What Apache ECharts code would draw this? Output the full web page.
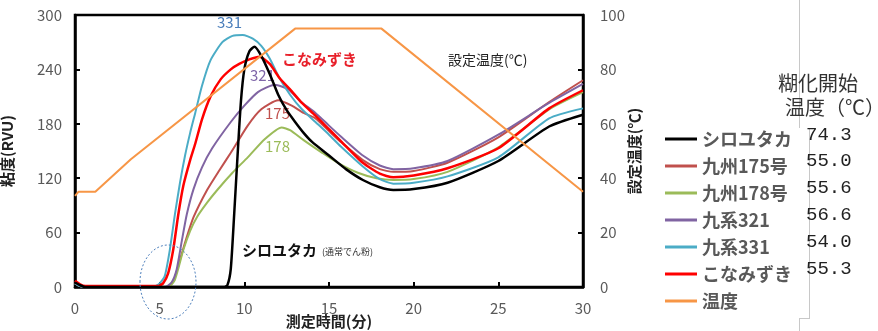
<!DOCTYPE html>
<html><head><meta charset="utf-8">
<script src="https://cdn.jsdelivr.net/npm/echarts@6/dist/echarts.min.js"></script>
<style>html,body{margin:0;padding:0;background:#fff}#c{width:878px;height:331px}</style>
</head><body><div id="c"></div>
<script>
const FONT = '"Noto Sans CJK JP", "Noto Sans", sans-serif';

// ---- data ----
const legendNames = ['シロユタカ', '九州175号', '九州178号', '九系321', '九系331', 'こなみずき', '温度'];
const gelTemps = ['74.3', '55.0', '55.6', '56.6', '54.0', '55.3'];
const xTicks = [0, 5, 10, 15, 20, 25, 30];

const tShiro = [0, 0.3, 0.6, 8.8, 9.0, 9.2, 9.4, 9.6, 9.8, 10.0, 10.3, 10.6, 11.0, 11.5, 12.0, 12.5, 13.0, 13.5, 14.0, 15.0, 16.0, 17.0, 18.0, 18.8, 20, 22, 25, 28, 30];
const vShiro = [5, 2, 0, 0, 2, 20, 80, 145, 205, 240, 260, 265, 255, 235, 212, 195, 182, 170, 160, 145, 130, 118, 110, 107, 108, 115, 139, 177, 190];

const t175 = [0, 0.3, 0.6, 5.4, 5.8, 6.2, 6.6, 7.0, 7.8, 8.5, 9.2, 10.2, 11.0, 12.0, 12.8, 13.5, 14.2, 15.0, 15.7, 17.0, 18.0, 18.8, 20, 22, 25, 28, 30];
const v175 = [4, 1, 0, 0, 6, 30, 55, 77, 107, 128, 148, 178, 196, 206, 200, 192, 186, 172, 160, 140, 130, 127, 128, 137, 165, 204, 228];

const t178 = [0, 0.3, 0.6, 5.5, 5.9, 6.4, 6.8, 7.2, 7.8, 8.4, 9.3, 10.2, 11.2, 12.2, 12.7, 13.5, 14.6, 15.6, 16.7, 17.8, 18.8, 20, 22, 25, 28, 30];
const v178 = [4, 1, 0, 0, 8, 41, 62, 77, 93, 107, 126, 143, 163, 176, 173, 162, 148, 136, 126, 120, 118, 119, 127, 154, 196, 215];

const t321 = [0, 0.3, 0.6, 5.3, 5.7, 6.0, 6.3, 6.6, 7.0, 7.5, 8.1, 9.2, 10.0, 10.8, 11.8, 12.6, 13.3, 14.2, 15.0, 15.7, 17.0, 18.0, 18.8, 20, 22, 25, 28, 30];
const v321 = [4, 1, 0, 0, 5, 19, 50, 80, 108, 132, 153, 182, 200, 215, 223, 218, 205, 192, 178, 166, 145, 134, 130, 131, 139, 168, 203, 224];

const t331 = [0, 0.3, 0.6, 4.6, 5.0, 5.3, 5.6, 5.9, 6.2, 6.5, 6.8, 7.1, 7.5, 8.0, 8.7, 9.3, 9.9, 10.5, 11.0, 11.5, 12.0, 12.7, 13.4, 14.2, 15.0, 15.7, 17.0, 18.0, 18.8, 20, 22, 25, 28, 30];
const v331 = [4, 1, 0, 0, 4, 12, 41, 80, 115, 145, 170, 192, 222, 250, 270, 277, 278, 274, 266, 252, 233, 212, 196, 182, 168, 155, 133, 119, 114, 115, 122, 143, 186, 197];

const tKona = [0, 0.3, 0.6, 4.9, 5.2, 5.5, 5.8, 6.1, 6.4, 6.8, 7.1, 7.5, 8.0, 8.6, 9.2, 9.7, 10.3, 10.9, 11.5, 12.1, 12.7, 13.4, 14.2, 15.0, 15.7, 17.0, 18.0, 18.8, 20, 22, 25, 28, 30];
const vKona = [7, 3, 1, 1, 4, 15, 41, 80, 112, 140, 158, 185, 210, 229, 240, 246, 251, 254, 246, 230, 218, 203, 189, 174, 161, 137, 125, 121, 123, 131, 153, 197, 217];

const tTemp = [0, 0.2, 1.2, 3.3, 13.0, 18.1, 30];
const vTemp = [33.5, 35, 35, 47, 95, 95, 35];

// ---- build ----
const pairs = (t, v) => t.map((x, i) => [x, v[i]]);
const colors = ['#000000', '#c0504d', '#9bbb59', '#8064a2', '#4bacc6', '#ff0000', '#f79646'];
const seriesData = [pairs(tShiro, vShiro), pairs(t175, v175), pairs(t178, v178), pairs(t321, v321), pairs(t331, v331), pairs(tKona, vKona)];

const series = seriesData.map((d, i) => ({
  name: legendNames[i], type: 'line', data: d, showSymbol: false, symbol: 'none',
  smooth: 0.2, yAxisIndex: 0,
  lineStyle: { color: colors[i], width: (i === 0 || i === 5) ? 2.5 : 2 },
  itemStyle: { color: colors[i] }, z: i === 0 ? 3 : 2, silent: true
}));
series.push({
  name: legendNames[6], type: 'line', data: pairs(tTemp, vTemp), yAxisIndex: 1,
  showSymbol: false, symbol: 'none', lineStyle: { color: colors[6], width: 2 },
  itemStyle: { color: colors[6] }, z: 4, silent: true
});

const tickLabel = { color: '#595959', fontSize: 15, fontFamily: FONT };
const axisLine = { show: true, lineStyle: { color: '#000', width: 2.5 } };
const axisTick = { show: true, inside: true, length: 5, lineStyle: { color: '#000', width: 2 } };
const nameStyle = { color: '#222', fontSize: 15, fontWeight: 'bold', fontFamily: FONT };

const rowY = [136, 162, 189, 216, 243, 270];
const graphics = [
  { type: 'text', left: 217, top: 15, style: { text: '331', fill: '#4a7ebb', fontSize: 15, fontFamily: FONT } },
  { type: 'text', left: 282, top: 52, style: { text: 'こなみずき', fill: '#e8202a', fontSize: 15, fontWeight: 'bold', fontFamily: FONT } },
  { type: 'text', left: 250, top: 68, style: { text: '321', fill: '#7f66a8', fontSize: 15, fontFamily: FONT } },
  { type: 'text', left: 265, top: 106, style: { text: '175', fill: '#c0504d', fontSize: 15, fontFamily: FONT } },
  { type: 'text', left: 265, top: 139, style: { text: '178', fill: '#9bbb59', fontSize: 15, fontFamily: FONT } },
  { type: 'text', left: 448, top: 53, style: { text: '設定温度(℃)', fill: '#222', fontSize: 14, fontFamily: FONT } },
  { type: 'text', left: 242, top: 243, style: { text: 'シロユタカ', fill: '#111', fontSize: 15, fontWeight: 'bold', fontFamily: FONT } },
  { type: 'text', left: 322, top: 247, style: { text: '(通常でん粉)', fill: '#333', fontSize: 9, fontFamily: FONT } },
  { type: 'ellipse', shape: { cx: 168, cy: 282, rx: 28, ry: 37 }, style: { fill: 'none', stroke: '#4f81bd', lineWidth: 1, lineDash: [2, 2] }, z: 10 },
  { type: 'line', shape: { x1: 799.5, y1: 0, x2: 799.5, y2: 128 }, style: { stroke: '#c8c8c8', lineWidth: 1 } },
  { type: 'line', shape: { x1: 809.5, y1: 128, x2: 809.5, y2: 318 }, style: { stroke: '#c8c8c8', lineWidth: 1 } },
  { type: 'line', shape: { x1: 799, y1: 318.5, x2: 810, y2: 318.5 }, style: { stroke: '#c8c8c8', lineWidth: 1 } },
  { type: 'line', shape: { x1: 799.5, y1: 318, x2: 799.5, y2: 331 }, style: { stroke: '#c8c8c8', lineWidth: 1 } },
  { type: 'text', left: 778, top: 73, style: { text: '糊化開始', fill: '#333', fontSize: 20, fontFamily: FONT } },
  { type: 'text', left: 785, top: 97, style: { text: '温度（℃）', fill: '#333', fontSize: 20, fontFamily: FONT } }
];
gelTemps.forEach((s, i) => graphics.push({
  type: 'text', left: 806, top: rowY[i] - 11,
  style: { text: s, fill: '#222', fontSize: 19, fontFamily: '"Liberation Mono", "DejaVu Sans Mono", monospace' }
}));

const chart = echarts.init(document.getElementById('c'), null, { renderer: 'canvas' });
chart.setOption({
  backgroundColor: '#fff',
  animation: false,
  grid: { left: 75, right: 295, top: 15, bottom: 44, show: true, borderColor: '#000', borderWidth: 2.5, containLabel: false, outerBoundsMode: 'none' },
  legend: {
    data: legendNames, orient: 'vertical', left: 660, top: 124, icon: 'rect',
    itemWidth: 32, itemHeight: 3, itemGap: 7, selectedMode: false,
    textStyle: { color: '#595959', fontSize: 18, fontWeight: 'bold', fontFamily: FONT, lineHeight: 20 }
  },
  xAxis: {
    type: 'value', min: 0, max: 30, interval: 5,
    name: '測定時間(分)', nameLocation: 'middle', nameGap: 27, nameMoveOverlap: false, nameTextStyle: nameStyle,
    axisLine, axisTick, splitLine: { show: false },
    axisLabel: Object.assign({ margin: 14, formatter: v => xTicks.includes(v) ? String(v) : '' }, tickLabel)
  },
  yAxis: [
    {
      type: 'value', min: 0, max: 300, interval: 60, position: 'left',
      name: '粘度(RVU)', nameLocation: 'middle', nameGap: 60, nameRotate: 90, nameMoveOverlap: false, nameTextStyle: nameStyle,
      axisLine, axisTick, splitLine: { show: false },
      axisLabel: Object.assign({ margin: 13 }, tickLabel)
    },
    {
      type: 'value', min: 0, max: 100, interval: 20, position: 'right',
      name: '設定温度(℃)', nameLocation: 'middle', nameGap: 44, nameRotate: 90, nameMoveOverlap: false, nameTextStyle: nameStyle,
      axisLine, axisTick, splitLine: { show: false },
      axisLabel: Object.assign({ margin: 17 }, tickLabel)
    }
  ],
  series,
  graphic: graphics
});
</script>
</body></html>
